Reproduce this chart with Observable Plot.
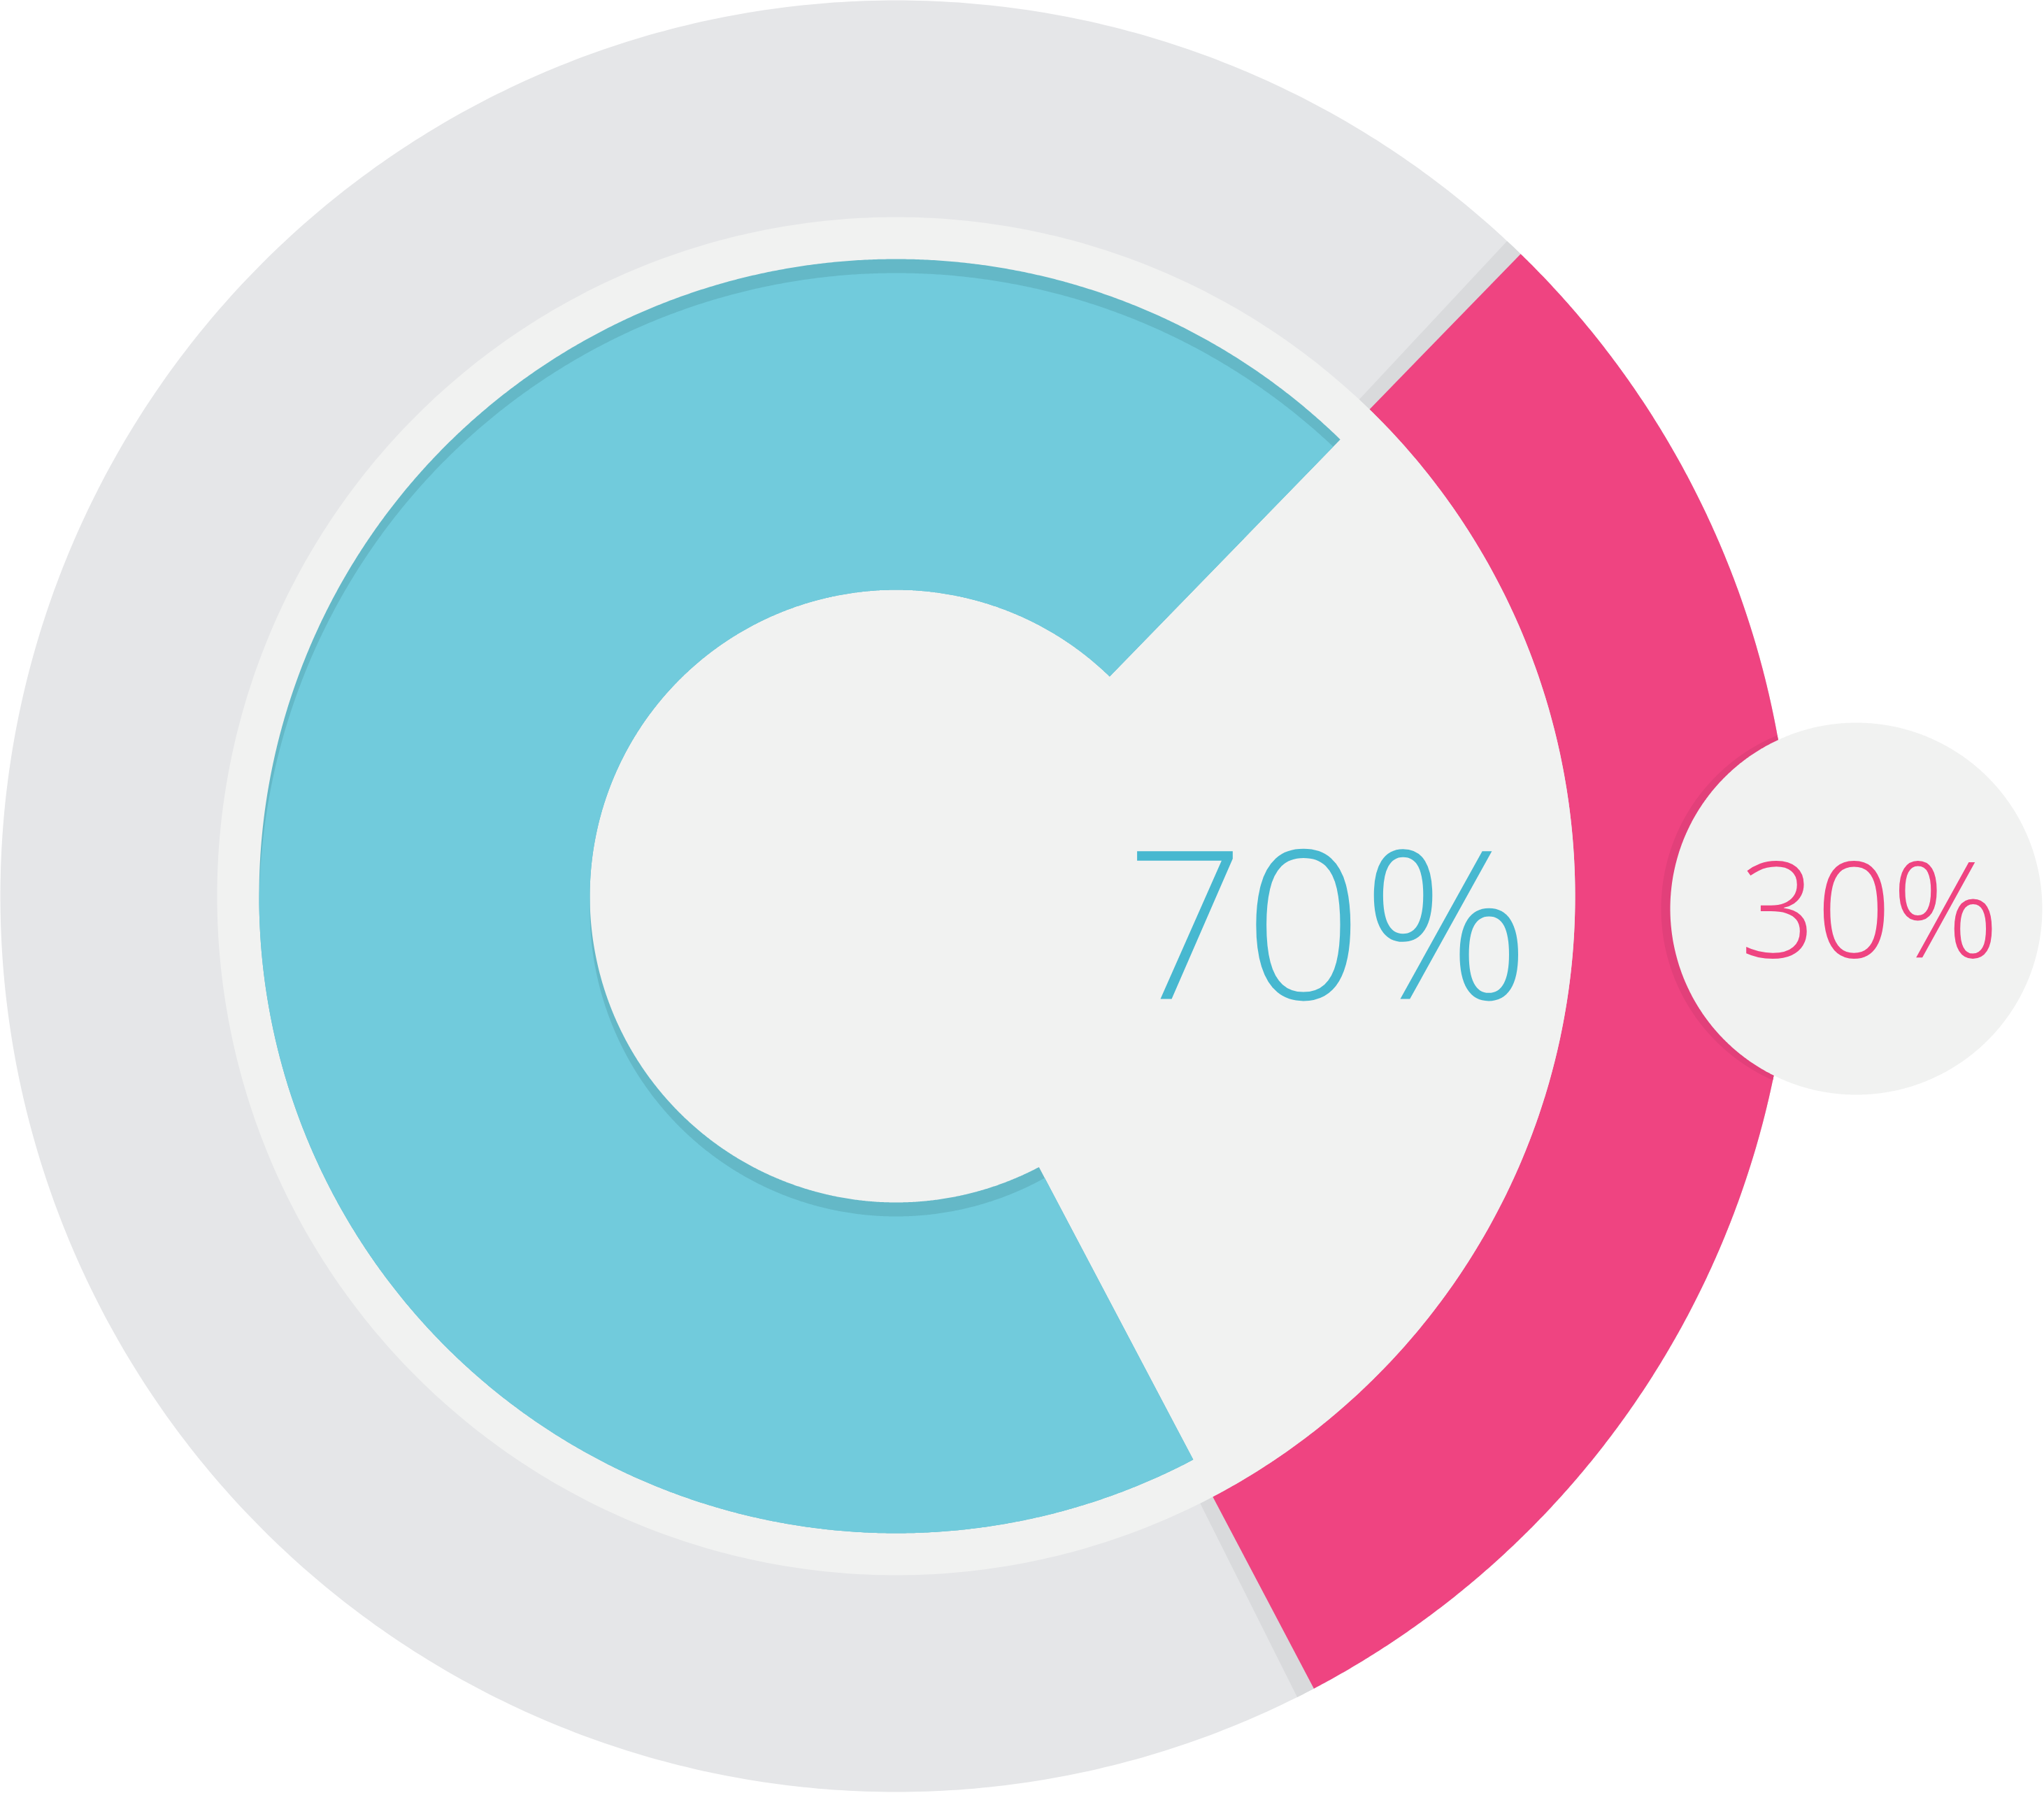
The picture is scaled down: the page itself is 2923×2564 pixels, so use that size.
<!DOCTYPE html>
<html>
<head>
<meta charset="utf-8">
<script src="https://cdn.jsdelivr.net/npm/d3@7"></script>
<script src="https://cdn.jsdelivr.net/npm/@observablehq/plot@0.6"></script>
<style>
  html, body { margin: 0; padding: 0; background: #ffffff; }
  #chart svg { display: block; }
</style>
</head>
<body>
<div id="chart"></div>
<script>
// ---- data ----
const categories = ["Blue segment", "Pink segment"];
const values = [70, 30];
const labels = ["70%", "30%"];

// ---- layout / style constants ----
const W = 2923, H = 2564;
const R_OUTER = 1281, R_PANEL = 971, R_BLUE_OUT = 911, R_BLUE_IN = 438;
const PINK_MID_DEG = 98.2;          // centre of pink segment, clockwise from north
const SHADOW_PAD_DEG = 1.2;         // grey rim around the pink segment
const BLUE_SHIFT = 20;              // offset of the light blue layer (px, downward)
const BADGE = {cx: 1373, cy: -18, r: 266, shadowDx: -11, shadowR: 268};
const COL = {
  disc: "#e5e6e8", rim: "#d9dadc", pink: "#ef4481", panel: "#f1f2f1",
  blueDark: "#64b8c7", blueLight: "#71cbdc", badgeShadow: "#e2407a",
  textBlue: "#47b8d0", textPink: "#ef4481"
};

// ---- pie angles from the data ----
const rad = Math.PI / 180;
const pinkSpan = 360 * values[1] / d3.sum(values);
const startAngle = (PINK_MID_DEG + pinkSpan / 2) * rad; // blue starts where pink ends
const arcs = d3.pie().sort(null).value(d => d).startAngle(startAngle).endAngle(startAngle + 2 * Math.PI)(values);
const blueArc = arcs[0], pinkArc = arcs[1];

// ---- geometry helpers (math coords, y up, angle clockwise from north) ----
const pt = (r, a) => ({x: r * Math.sin(a), y: r * Math.cos(a)});
function sector(r0, r1, a0, a1, step = 0.2 * rad) {
  const n = Math.max(2, Math.ceil((a1 - a0) / step));
  const out = [], inn = [];
  for (let i = 0; i <= n; i++) {
    const a = a0 + (a1 - a0) * i / n;
    out.push(pt(r1, a));
    inn.push(pt(r0, a));
  }
  return out.concat(inn.reverse());
}
function disc(cx, cy, r, clampR = Infinity) {
  const res = [];
  for (let i = 0; i <= 720; i++) {
    const a = i / 720 * 2 * Math.PI;
    let x = cx + r * Math.sin(a), y = cy + r * Math.cos(a);
    const d = Math.hypot(x, y);
    if (d > clampR) { x *= clampR / d; y *= clampR / d; }
    res.push({x, y});
  }
  return res;
}
// light blue layer: blue sector intersected with the same sector shifted down
function shiftedSector(r0, r1, a0, a1, shift, step = 0.2 * rad) {
  const n = Math.max(2, Math.ceil((a1 - a0) / step));
  const out = [], inn = [];
  for (let i = 0; i <= n; i++) {
    const a = a0 + (a1 - a0) * i / n;
    const ud = -shift * Math.cos(a);
    const tOut = ud + Math.sqrt(ud * ud - shift * shift + r1 * r1);
    const tIn = ud + Math.sqrt(ud * ud - shift * shift + r0 * r0);
    out.push(pt(Math.min(r1, tOut), a));
    inn.push(pt(Math.max(r0, tIn), a));
  }
  return out.concat(inn.reverse());
}

const shapes = {
  disc: disc(0, 0, R_OUTER),
  rim: sector(R_PANEL, R_OUTER, pinkArc.startAngle - SHADOW_PAD_DEG * rad, pinkArc.endAngle + SHADOW_PAD_DEG * rad),
  pink: sector(R_PANEL, R_OUTER, pinkArc.startAngle, pinkArc.endAngle),
  panel: disc(0, 0, R_PANEL),
  blueDark: sector(R_BLUE_IN, R_BLUE_OUT, blueArc.startAngle, blueArc.endAngle),
  blueLight: shiftedSector(R_BLUE_IN, R_BLUE_OUT, blueArc.startAngle, blueArc.endAngle, BLUE_SHIFT),
  badgeShadow: disc(BADGE.cx + BADGE.shadowDx, BADGE.cy, BADGE.shadowR, R_OUTER),
  badge: disc(BADGE.cx, BADGE.cy, BADGE.r)
};
const poly = (data, fill) => Plot.line(data, {x: "x", y: "y", fill, stroke: "none", curve: "linear"});

const texts = [
  {label: labels[0], x: 329, y: -147, size: 296, color: COL.textBlue},
  {label: labels[1], x: 1207, y: -87, size: 190, color: COL.textPink}
];

const chart = Plot.plot({
  width: W, height: H, margin: 0,
  x: {domain: [-R_OUTER, W - R_OUTER], axis: null},
  y: {domain: [R_OUTER - H, R_OUTER], axis: null},
  style: {background: "#ffffff", fontFamily: "'Open Sans', sans-serif"},
  marks: [
    poly(shapes.disc, COL.disc),
    poly(shapes.rim, COL.rim),
    poly(shapes.pink, COL.pink),
    poly(shapes.panel, COL.panel),
    poly(shapes.blueDark, COL.blueDark),
    poly(shapes.blueLight, COL.blueLight),
    poly(shapes.badgeShadow, COL.badgeShadow),
    poly(shapes.badge, COL.panel),
    ...texts.map(t => Plot.text([t], {
      x: "x", y: "y", text: "label", fill: t.color, fontSize: t.size,
      fontWeight: 300, fontFamily: "'Open Sans', sans-serif",
      textAnchor: "start", lineAnchor: "bottom"
    }))
  ]
});
document.getElementById("chart").append(chart);
</script>
</body>
</html>
